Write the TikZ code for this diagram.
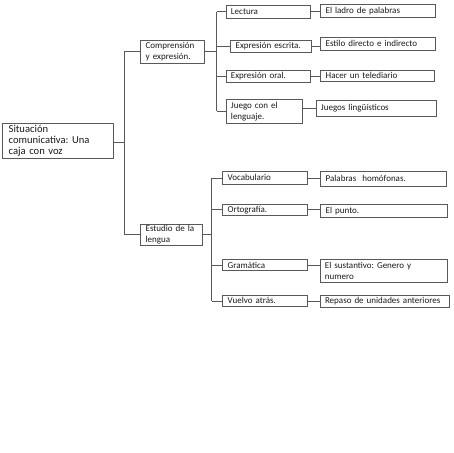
\documentclass[tikz,border=0pt]{standalone}
\usepackage{fontspec}
\setmainfont{Carlito}
\frenchspacing
\begin{document}
\begin{tikzpicture}[x=1pt,y=-1pt,
  box/.style={draw=black!65,line width=0.6pt,rectangle,inner xsep=5pt,inner ysep=1pt,
    align=left,text=black!90,font=\fontsize{9}{11}\selectfont},
  rootbox/.style={box,inner xsep=6pt,font=\fontsize{10.6}{11}\selectfont},
  link/.style={draw=black!65,line width=0.6pt}]
\useasboundingbox (0,0) rectangle (453,453);
% level 0
\node[rootbox,text width=98.3pt,minimum height=35pt] (root) at (57.8,140.8) {Situación\\comunicativa: Una\\caja con voz};
% level 1
\node[box,text width=53.8pt,minimum height=23pt] (comp) at (172.6,51.5) {Comprensión\\y expresión.};
\node[box,text width=51.3pt,minimum height=21pt] (est) at (171.3,234.5) {Estudio de la\\lengua};
% level 2 top
\node[box,text width=74.7pt,minimum height=13pt] (lect) at (268.3,11.7) {Lectura};
\node[box,text width=71pt,minimum height=12pt] (escr) at (271.2,45.8) {Expresión escrita.};
\node[box,text width=74.7pt,minimum height=11.5pt] (oral) at (268.3,76.3) {Expresión oral.};
\node[box,text width=66.7pt,minimum height=24.3pt] (jueg) at (264.3,111.2) {Juego con el\\lenguaje.};
% level 3 top
\node[box,text width=104.3pt,minimum height=13.4pt] (ladro) at (377.8,11) {El ladro de palabras};
\node[box,text width=104.3pt,minimum height=12.7pt] (estilo) at (377.8,43.7) {Estilo directo e indirecto};
\node[box,text width=103.3pt,minimum height=11.7pt] (hacer) at (377.3,75.8) {Hacer un telediario};
\node[box,text width=110.7pt,minimum height=16.7pt] (jling) at (376.3,108.3) {Juegos lingüísticos};
% level 2 bottom
\node[box,text width=74.6pt,minimum height=12.3pt] (voc) at (265,177.8) {Vocabulario};
\node[box,text width=74.6pt,minimum height=11.5pt] (orto) at (265,209.7) {Ortografía.};
\node[box,text width=74.6pt,minimum height=11pt] (gram) at (265,265) {Gramática};
\node[box,text width=74.6pt,minimum height=11.7pt] (vuel) at (265,300.8) {Vuelvo atrás.};
% level 3 bottom
\node[box,text width=115.3pt,minimum height=14.3pt] (homo) at (383.3,178.8) {Palabras\ \ homófonas.};
\node[box,text width=116.6pt,minimum height=13pt] (punto) at (384,210.8) {El punto.};
\node[box,text width=117.3pt,minimum height=23.4pt] (sust) at (383.6,271) {El sustantivo: Genero y\\numero};
\node[box,text width=119pt,minimum height=12.3pt] (repa) at (384.5,301.2) {Repaso de unidades anteriores};
% trunk coordinates
\coordinate (t0) at (124,142);
\coordinate (t1) at (216.7,51.5);
\coordinate (t2) at (211.7,234.5);
% root to level 1
\draw[link] (root.east |- t0) -- (t0);
\draw[link] (t0 |- comp.west) -- (t0 |- est.west);
\draw[link] (t0 |- comp.west) -- (comp.west);
\draw[link] (t0 |- est.west) -- (est.west);
% comp to level 2
\draw[link] (comp.east) -- (t1);
\draw[link] (t1 |- lect.west) -- (t1 |- jueg.west);
\foreach \n in {lect,escr,oral,jueg} \draw[link] (t1 |- \n.west) -- (\n.west);
% est to level 2
\draw[link] (est.east) -- (t2);
\draw[link] (t2 |- voc.west) -- (t2 |- vuel.west);
\foreach \n in {voc,orto,gram,vuel} \draw[link] (t2 |- \n.west) -- (\n.west);
% level 2 to level 3
\draw[link] (lect.east) -- (ladro.west |- lect.east);
\draw[link] (escr.east) -- (estilo.west |- escr.east);
\draw[link] (oral.east) -- (hacer.west |- oral.east);
\draw[link] (jueg.east |- jling.west) -- (jling.west);
\draw[link] (voc.east) -- (homo.west |- voc.east);
\draw[link] (orto.east) -- (punto.west |- orto.east);
\draw[link] (gram.east) -- (sust.west |- gram.east);
\draw[link] (vuel.east) -- (repa.west |- vuel.east);
\end{tikzpicture}
\end{document}
